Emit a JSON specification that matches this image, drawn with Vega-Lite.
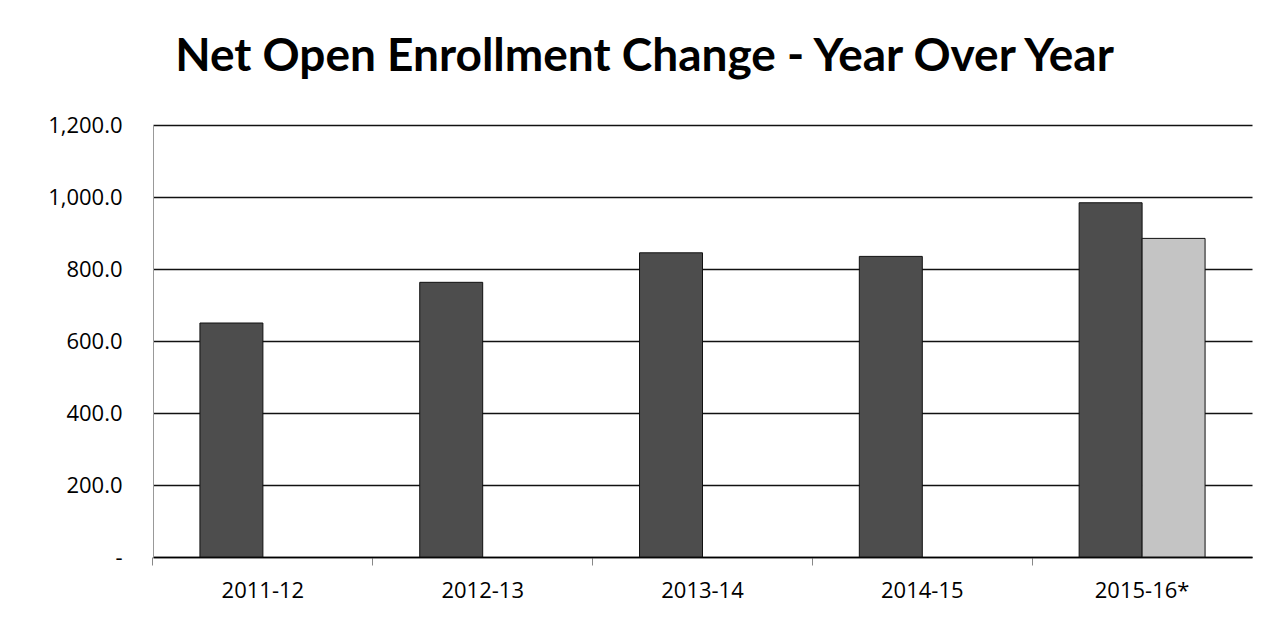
{
  "$schema": "https://vega.github.io/schema/vega-lite/v6.json",
  "width": 1099,
  "height": 432,
  "autosize": {"type": "none"},
  "padding": {"left": 153, "top": 125, "right": 30, "bottom": 62},
  "background": "white",
  "title": {
    "text": "Net Open Enrollment Change - Year Over Year",
    "font": "Lato",
    "fontSize": 46,
    "fontWeight": "bold",
    "color": "#000000",
    "anchor": "middle",
    "dx": -58,
    "offset": 33
  },
  "data": {
    "values": [
      {"year": "2011-12", "series": "Actual", "value": 650},
      {"year": "2012-13", "series": "Actual", "value": 763},
      {"year": "2013-14", "series": "Actual", "value": 845},
      {"year": "2014-15", "series": "Actual", "value": 835},
      {"year": "2015-16*", "series": "Actual", "value": 984},
      {"year": "2015-16*", "series": "Projected", "value": 885}
    ]
  },
  "mark": {"type": "bar", "stroke": "#111111", "strokeWidth": 1},
  "encoding": {
    "x": {
      "field": "year",
      "type": "nominal",
      "sort": null,
      "scale": {"paddingInner": 0.427, "paddingOuter": 0.2135},
      "axis": {
        "title": null,
        "labelAngle": 0,
        "labelFont": "Open Sans",
        "labelFontSize": 22,
        "labelColor": "#000000",
        "labelPadding": 15,
        "ticks": true,
        "tickColor": "#888888",
        "tickSize": 8,
        "bandPosition": -0.373,
        "domainColor": "#000000",
        "domainWidth": 1.5,
        "grid": false
      }
    },
    "xOffset": {"field": "series", "type": "nominal", "sort": ["Actual", "Projected"], "scale": {"domain": ["Actual", "Projected"], "paddingInner": 0, "paddingOuter": 0}},
    "y": {
      "field": "value",
      "type": "quantitative",
      "scale": {"domain": [0, 1200], "nice": false},
      "axis": {
        "title": null,
        "values": [0, 200, 400, 600, 800, 1000, 1200],
        "labelExpr": "datum.value == 0 ? '-' : format(datum.value, ',.1f')",
        "labelFont": "Open Sans",
        "labelFontSize": 22,
        "labelColor": "#000000",
        "labelPadding": 31,
        "ticks": false,
        "grid": true,
        "gridColor": "#111111",
        "gridWidth": 1.5,
        "domain": true,
        "domainColor": "#999999",
        "domainWidth": 1
      }
    },
    "color": {
      "field": "series",
      "type": "nominal",
      "scale": {"domain": ["Actual", "Projected"], "range": ["#4d4d4d", "#c4c4c4"]},
      "legend": null
    }
  },
  "config": {"view": {"stroke": null}}
}
